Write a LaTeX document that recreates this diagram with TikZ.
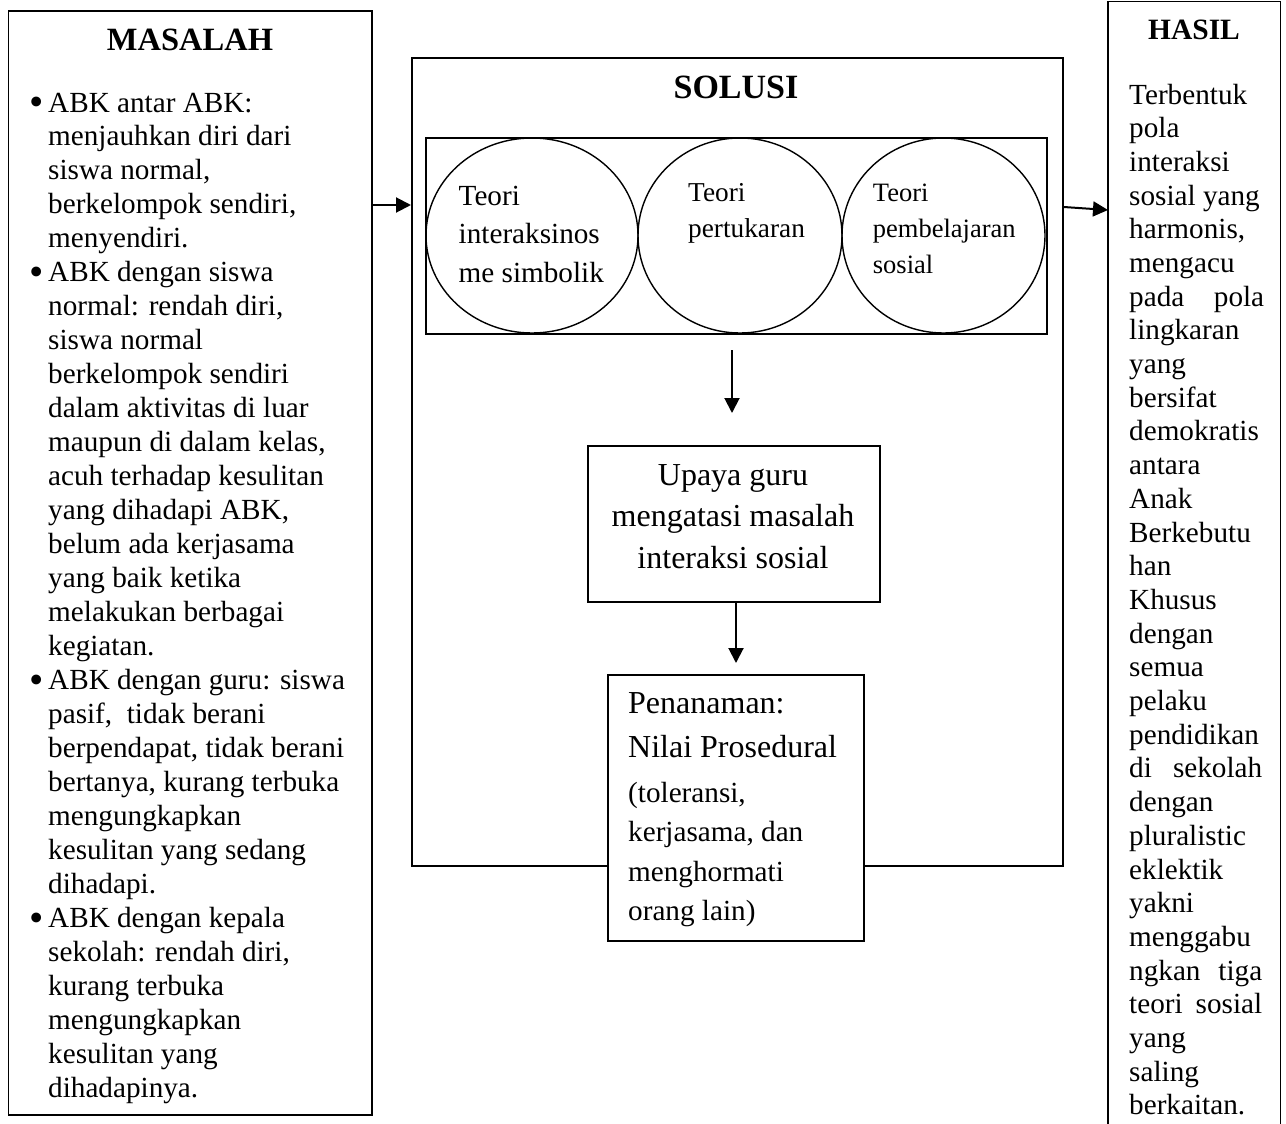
\documentclass[tikz,border=0pt]{standalone}
\usepackage{fontspec}
\setmainfont{Liberation Serif}
\usetikzlibrary{arrows.meta,calc,shapes.geometric}
\newcommand\bul{\leavevmode\llap{\raisebox{-3.5pt}{\scalebox{1.4}{\textbullet}}\hspace{4pt}}}
\begin{document}
\begin{tikzpicture}[x=1pt,y=-1pt,
  box/.style={draw, line width=1.8pt, inner sep=0pt, anchor=north west},
  circ/.style={draw, ellipse, line width=1.4pt, inner sep=0pt},
  arr/.style={line width=2pt, -{Triangle[length=15pt,width=15pt]}},
  txt/.style={inner sep=0pt, anchor=base west},
  ttl/.style={inner sep=0pt, anchor=base},
]
\useasboundingbox (0,0) rectangle (1286,1124);
\fill[white] (0,0) rectangle (1286,1124);

% MASALAH
\node[box, minimum width=363.5pt, minimum height=1103.5pt] (masalah) at (7.5,10.5) {};
\node[ttl, font=\fontsize{32.5}{36}\selectfont\bfseries] (masalahT) at (190,51) {MASALAH};
\node[txt] (masalahB) at (48,112) {\parbox[t]{320pt}{\fontsize{29.2}{34}\selectfont\raggedright
\bul ABK antar ABK:\\
menjauhkan diri dari\\
siswa normal,\\
berkelompok sendiri,\\
menyendiri.\\
\bul ABK dengan siswa\\
normal: rendah diri,\\
siswa normal\\
berkelompok sendiri\\
dalam aktivitas di luar\\
maupun di dalam kelas,\\
acuh terhadap kesulitan\\
yang dihadapi ABK,\\
belum ada kerjasama\\
yang baik ketika\\
melakukan berbagai\\
kegiatan.\\
\bul ABK dengan guru: siswa\\
pasif,\ \ tidak berani\\
berpendapat, tidak berani\\
bertanya, kurang terbuka\\
mengungkapkan\\
kesulitan yang sedang\\
dihadapi.\\
\bul ABK dengan kepala\\
sekolah: rendah diri,\\
kurang terbuka\\
mengungkapkan\\
kesulitan yang\\
dihadapinya.}};

% SOLUSI
\node[box, minimum width=651pt, minimum height=808pt] (solusi) at (411,57) {};
\node[ttl, font=\fontsize{34}{38}\selectfont\bfseries] (solusiT) at (736,99) {SOLUSI};
\node[box, minimum width=621pt, minimum height=196pt] (teori) at (425,137) {};
\node[circ, minimum width=212pt, minimum height=195pt] (c1) at (532,235.5) {};
\node[circ, minimum width=204pt, minimum height=195pt] (c2) at (740,235.5) {};
\node[circ, minimum width=203pt, minimum height=195pt] (c3) at (943.5,235.5) {};
\node[txt] (c1t) at (458.5,205) {\parbox[t]{160pt}{\fontsize{29.2}{38.5}\selectfont Teori\\interaksinos\\me simbolik}};
\node[txt] (c2t) at (688,201) {\parbox[t]{160pt}{\fontsize{27.3}{36.5}\selectfont Teori\\pertukaran}};
\node[txt] (c3t) at (872.7,201) {\parbox[t]{160pt}{\fontsize{26.5}{36}\selectfont Teori\\pembelajaran\\sosial}};

\node[box, minimum width=292pt, minimum height=156pt] (upaya) at (587,445) {};
\node[ttl] (upayaT) at (733,485) {\parbox[t]{290pt}{\centering\fontsize{32}{41.5}\selectfont Upaya guru\\mengatasi masalah\\interaksi sosial}};

\node[box, fill=white, minimum width=256pt, minimum height=266pt] (penanaman) at (607,674) {};
\node[txt] (penT) at (628,713) {\parbox[t]{230pt}{\fontsize{32}{44.5}\selectfont Penanaman:\\Nilai Prosedural\par\vspace{5pt}\fontsize{29.2}{39.5}\selectfont (toleransi,\\kerjasama, dan\\menghormati\\orang lain)}};

% HASIL
\node[inner sep=0pt, anchor=north west, minimum width=172pt, minimum height=1140pt] (hasil) at (1108,1.5) {};
\draw[line width=1.8pt] (hasil.south west) -- (hasil.north west) -- (hasil.north east) -- (hasil.south east);
\node[ttl, font=\fontsize{29.5}{34}\selectfont\bfseries] (hasilT) at (1194,40) {HASIL};
\node[txt] (hasilB) at (1129,104) {\parbox[t]{150pt}{\fontsize{29.2}{33.7}\selectfont
Terbentuk\\
pola\\
interaksi\\
sosial yang\\
harmonis,\\
mengacu\\
\makebox[135pt][s]{pada pola}\\
lingkaran\\
yang\\
bersifat\\
demokratis\\
antara\\
Anak\\
Berkebutu\\
han\\
Khusus\\
dengan\\
semua\\
pelaku\\
pendidikan\\
\makebox[133pt][s]{di sekolah}\\
dengan\\
pluralistic\\
eklektik\\
yakni\\
menggabu\\
\makebox[133pt][s]{ngkan tiga}\\
\makebox[133pt][s]{teori sosial}\\
yang\\
saling\\
berkaitan.}};

% connectors
\coordinate (a1) at (0,205);
\coordinate (b1) at (0,207);
\coordinate (b2) at (0,210);
\draw[arr] (masalah.east |- a1) -- (solusi.west |- a1);
\draw[arr] (solusi.east |- b1) -- (hasil.west |- b2);
\coordinate (d1a) at (732,350);
\coordinate (d1b) at (732,413);
\draw[arr] (d1a) -- (d1b);
\coordinate (d2b) at (736,663);
\draw[arr] (upaya.south -| d2b) -- (d2b);
\end{tikzpicture}
\end{document}
